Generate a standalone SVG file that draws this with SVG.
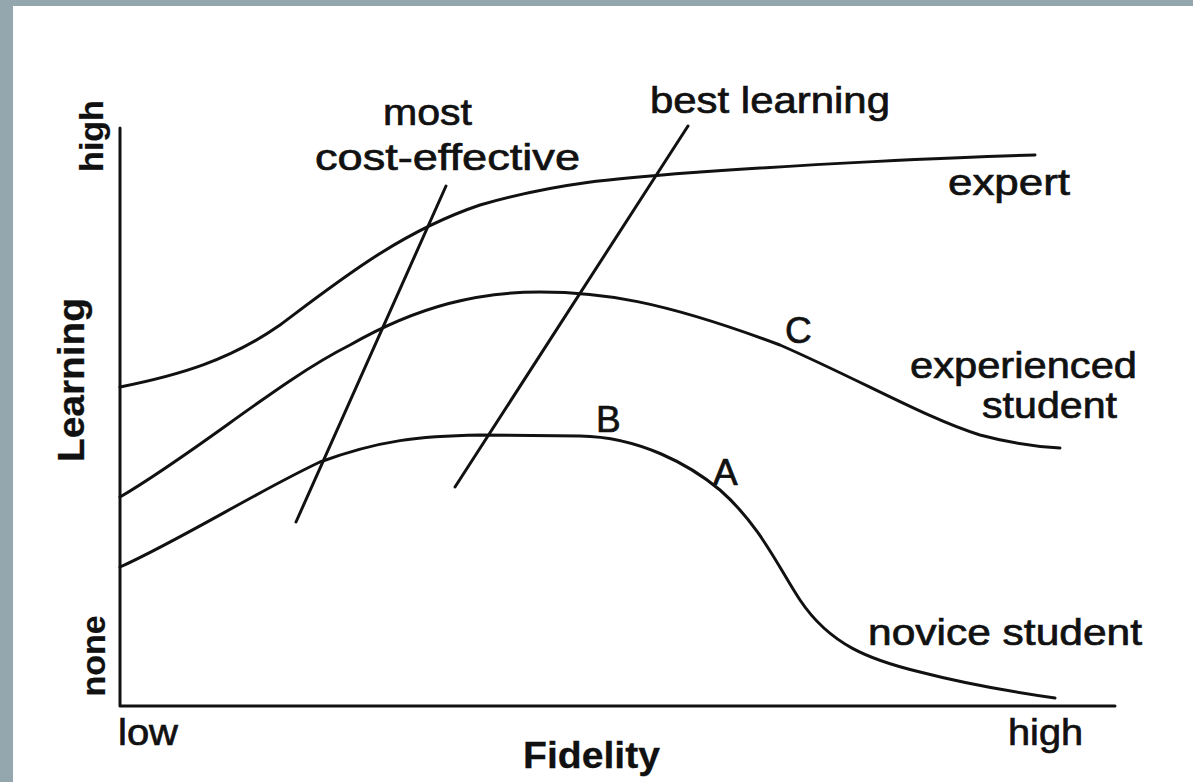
<svg xmlns="http://www.w3.org/2000/svg" width="1193" height="782" viewBox="0 0 1193 782">
<style>
.t{font-family:"Liberation Sans",Arial,sans-serif;font-size:37px;fill:#111;stroke:#111;stroke-width:0.7px}
.r{font-size:34px;font-weight:bold;stroke-width:0.2px}
.b{font-weight:bold;stroke-width:0.3px}
.c{fill:none;stroke:#111;stroke-width:3;stroke-linecap:round;stroke-linejoin:round}
</style>
<rect x="0" y="0" width="1193" height="782" fill="#ffffff"/>
<rect x="0" y="0" width="1193" height="6" fill="#94a7ae"/>
<rect x="0" y="0" width="13" height="782" fill="#94a7ae"/>
<g id="axes">
<path class="c" d="M120,128 L120,706 L1115,706"/>
</g>
<g id="axis-labels">
<text class="t r" transform="translate(103,136) rotate(-90)" text-anchor="middle">high</text>
<text class="t b" transform="translate(84,380) rotate(-90)" text-anchor="middle" textLength="164" lengthAdjust="spacingAndGlyphs">Learning</text>
<text class="t r" transform="translate(105,656) rotate(-90)" text-anchor="middle">none</text>
<text class="t" x="118" y="745" textLength="60" lengthAdjust="spacingAndGlyphs">low</text>
<text class="t" x="1008" y="745" textLength="75" lengthAdjust="spacingAndGlyphs">high</text>
<text class="t b" x="523" y="768" textLength="137" lengthAdjust="spacingAndGlyphs">Fidelity</text>
</g>
<g id="connectors">
<path id="expert-curve" class="c" d="M120,387 C180,375 230,360 280,325 C340,280 400,232 480,205 C560,182 620,178 700,172 C800,165 950,157 1035,155"/>
<path id="experienced-curve" class="c" d="M120,497 C200,450 280,380 350,345 C420,305 480,292 540,292 C600,292 660,300 780,345 C860,380 930,420 980,435 C1010,443 1040,447 1060,448"/>
<path id="novice-curve" class="c" d="M120,567 C180,540 260,490 320,462 C380,440 420,436 480,435 L580,436 C640,437 690,465 720,490 C760,525 780,570 800,600 C830,645 870,660 920,672 C970,685 1020,693 1055,698"/>
<path id="cost-line" class="c" d="M296,522 L446,186"/>
<path id="best-line" class="c" d="M455,487 L688,126"/>
</g>
<g id="label-most-cost-effective">
<text class="t" x="383" y="125" textLength="89" lengthAdjust="spacingAndGlyphs">most</text>
<text class="t" x="315" y="170" textLength="265" lengthAdjust="spacingAndGlyphs">cost-effective</text>
</g>
<g id="label-best-learning">
<text class="t" x="650" y="113" textLength="240" lengthAdjust="spacingAndGlyphs">best  learning</text>
</g>
<g id="label-expert">
<text class="t" x="948" y="195" textLength="122" lengthAdjust="spacingAndGlyphs">expert</text>
</g>
<g id="label-experienced">
<text class="t" x="910" y="378" textLength="227" lengthAdjust="spacingAndGlyphs">experienced</text>
<text class="t" x="982" y="418" textLength="135" lengthAdjust="spacingAndGlyphs">student</text>
</g>
<g id="label-novice">
<text class="t" x="868" y="645" textLength="274" lengthAdjust="spacingAndGlyphs">novice  student</text>
</g>
<g id="point-C"><text class="t" x="785" y="343">C</text></g>
<g id="point-B"><text class="t" x="596" y="432">B</text></g>
<g id="point-A"><text class="t" x="713" y="485">A</text></g>
</svg>
